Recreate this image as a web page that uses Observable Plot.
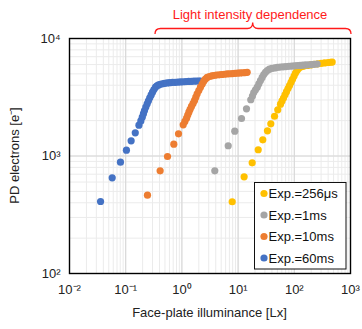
<!DOCTYPE html>
<html>
<head>
<meta charset="utf-8">
<script src="https://cdn.jsdelivr.net/npm/d3@7"></script>
<script src="https://cdn.jsdelivr.net/npm/@observablehq/plot@0.6"></script>
<style>
  html, body { margin: 0; padding: 0; background: #fff; }
  #wrap { position: relative; width: 362px; height: 329px; font-family: "Liberation Sans", Arial, sans-serif; }
  #wrap svg.overlay { position: absolute; left: 0; top: 0; pointer-events: none; }
</style>
</head>
<body>
<div id="wrap"></div>
<script>
// ---- data ----
const seriesNames = ["Exp.=256μs", "Exp.=1ms", "Exp.=10ms", "Exp.=60ms"];
const seriesColors = ["#FFC000", "#A5A5A5", "#ED7D31", "#4472C4"];

const x60ms = [0.0357, 0.0575, 0.0807, 0.103, 0.125, 0.148, 0.172, 0.186, 0.197, 0.207, 0.216, 0.228, 0.241, 0.254, 0.268, 0.284, 0.300, 0.318, 0.339, 0.36, 0.385, 0.416, 0.45, 0.49, 0.547, 0.61, 0.68, 0.76, 0.85, 0.95, 1.06, 1.18, 1.32, 1.47, 1.64, 1.83, 2.0, 2.14];
const y60ms = [410, 652, 886, 1120, 1347, 1575, 1828, 1990, 2138, 2290, 2440, 2610, 2782, 2950, 3128, 3310, 3491, 3680, 3851, 3960, 4030, 4080, 4120, 4150, 4190, 4210, 4225, 4240, 4255, 4270, 4285, 4300, 4310, 4320, 4330, 4340, 4345, 4350];

const x10ms = [0.244, 0.410, 0.555, 0.718, 0.871, 1.055, 1.13, 1.21, 1.27, 1.33, 1.40, 1.48, 1.58, 1.68, 1.77, 1.87, 2.0, 2.14, 2.3, 2.45, 2.62, 2.82, 3.1, 3.4, 3.7, 4.1, 4.6, 5.1, 5.7, 6.4, 7.1, 7.9, 8.8, 9.8, 10.9, 12.1, 13.3, 14.5];
const y10ms = [464, 748, 990, 1260, 1545, 1843, 1970, 2097, 2230, 2360, 2500, 2640, 2800, 2970, 3170, 3385, 3610, 3851, 4100, 4330, 4520, 4660, 4750, 4800, 4845, 4880, 4910, 4940, 4965, 4990, 5010, 5030, 5050, 5070, 5090, 5110, 5130, 5150];

const x1ms = [3.85, 6.67, 8.73, 11.5, 14.1, 16.8, 18.0, 19.0, 20.4, 21.9, 23.4, 25.0, 26.8, 28.6, 30.7, 33, 36, 40, 45, 50, 56, 63, 71, 80, 90, 101, 113, 127, 142, 160, 180, 202, 227, 255];
const y1ms = [748, 1222, 1626, 2085, 2520, 3010, 3240, 3465, 3660, 3851, 4110, 4390, 4660, 4940, 5150, 5330, 5480, 5560, 5620, 5670, 5710, 5740, 5770, 5800, 5830, 5855, 5880, 5905, 5930, 5955, 5980, 6000, 6030, 6060];

const x256us = [7.85, 12.8, 17.8, 22.8, 27.5, 33.3, 38.2, 44.5, 50.8, 56.8, 60.5, 64.3, 68.4, 72.6, 77.3, 82.2, 87.5, 92.9, 99, 105, 112, 118.6, 126, 135, 150, 170, 195, 225, 260, 300, 345, 400, 440, 472];
const y256us = [408, 665, 875, 1130, 1374, 1638, 1880, 2180, 2470, 2760, 2940, 3117, 3320, 3525, 3750, 3980, 4240, 4495, 4790, 5085, 5350, 5555, 5680, 5750, 5820, 5890, 5960, 6030, 6090, 6150, 6200, 6250, 6280, 6300];

const xTicks = [0.01, 0.1, 1, 10, 100, 1000];
const xTickLabels = ["10⁻²", "10⁻¹", "10⁰", "10¹", "10²", "10³"];
const yTicks = [100, 1000, 10000];
const yTickLabels = ["10²", "10³", "10⁴"];

const xTitle = "Face-plate illuminance [Lx]";
const yTitle = "PD electrons [e⁻]";
const annotation = "Light intensity dependence";

// ---- build tables ----
const toRows = (xs, ys, s) => xs.map((x, i) => ({x, y: ys[i], s}));
const d60 = toRows(x60ms, y60ms, seriesNames[3]);
const d10 = toRows(x10ms, y10ms, seriesNames[2]);
const d1 = toRows(x1ms, y1ms, seriesNames[1]);
const d256 = toRows(x256us, y256us, seriesNames[0]);

const W = 362, H = 329;
const mL = 69, mR = 12, mT = 38, mB = 56;
const font = '"Liberation Sans", Arial, sans-serif';

const plot = Plot.plot({
  width: W,
  height: H,
  marginLeft: mL,
  marginRight: mR,
  marginTop: mT,
  marginBottom: mB,
  style: {fontFamily: font, fontSize: "13px", color: "#222", background: "transparent"},
  x: {type: "log", domain: [0.01, 1000]},
  y: {type: "log", domain: [100, 10000]},
  marks: [
    Plot.gridX({ticks: 20, stroke: "#ebebeb", strokeOpacity: 1}),
    Plot.gridY({ticks: 20, stroke: "#ebebeb", strokeOpacity: 1}),
    Plot.gridX(xTicks, {stroke: "#d6d6d6", strokeOpacity: 1}),
    Plot.gridY(yTicks, {stroke: "#d6d6d6", strokeOpacity: 1}),
    Plot.dot(d60, {x: "x", y: "y", r: 3.6, fill: seriesColors[3], stroke: null}),
    Plot.dot(d10, {x: "x", y: "y", r: 3.6, fill: seriesColors[2], stroke: null}),
    Plot.dot(d256, {x: "x", y: "y", r: 3.6, fill: seriesColors[0], stroke: null}),
    Plot.dot(d1, {x: "x", y: "y", r: 3.6, fill: seriesColors[1], stroke: null}),
    Plot.axisX(xTicks, {tickSize: 0, tickPadding: 11, tickFormat: (d) => xTickLabels[xTicks.indexOf(d)], label: null, fontSize: 13, fill: "#222"}),
    Plot.axisY(yTicks, {tickSize: 0, tickPadding: 9, tickFormat: (d) => yTickLabels[yTicks.indexOf(d)], label: null, fontSize: 13, fill: "#222"}),
    Plot.frame({stroke: "#000", strokeWidth: 1.4})
  ]
});

const wrap = document.getElementById("wrap");
wrap.appendChild(plot);

// ---- overlay: titles, annotation bracket, legend ----
const ov = d3.select(wrap).append("svg")
  .attr("class", "overlay")
  .attr("width", W).attr("height", H)
  .style("font-family", font).style("font-size", "13px");

ov.append("text")
  .attr("x", mL + (W - mL - mR) / 2).attr("y", 317)
  .attr("text-anchor", "middle").attr("fill", "#222")
  .text(xTitle);

ov.append("text")
  .attr("transform", `translate(19, ${mT + (H - mT - mB) / 2}) rotate(-90)`)
  .attr("text-anchor", "middle").attr("fill", "#222")
  .text(yTitle);

ov.append("text")
  .attr("x", 250).attr("y", 18.5)
  .attr("text-anchor", "middle").attr("fill", "#ff1a1a")
  .text(annotation);

ov.append("path")
  .attr("d", "M155,34 Q155,28.5 160.5,28.5 L247.5,28.5 Q252.7,28.5 252.7,22.5 Q252.7,28.5 258,28.5 L345.5,28.5 Q351,28.5 351,34")
  .attr("fill", "none").attr("stroke", "#ff1a1a").attr("stroke-width", 1.3);

const lg = ov.append("g");
lg.append("rect")
  .attr("x", 254.5).attr("y", 182.5).attr("width", 91.5).attr("height", 86.5)
  .attr("fill", "#fff").attr("stroke", "#111").attr("stroke-width", 1);
seriesNames.forEach((name, i) => {
  const cy = 193.5 + 21.5 * i;
  lg.append("circle").attr("cx", 264).attr("cy", cy).attr("r", 3.6).attr("fill", seriesColors[i]);
  lg.append("text").attr("x", 268.5).attr("y", cy).attr("dy", "0.36em").attr("fill", "#111").text(name);
});
</script>
</body>
</html>
